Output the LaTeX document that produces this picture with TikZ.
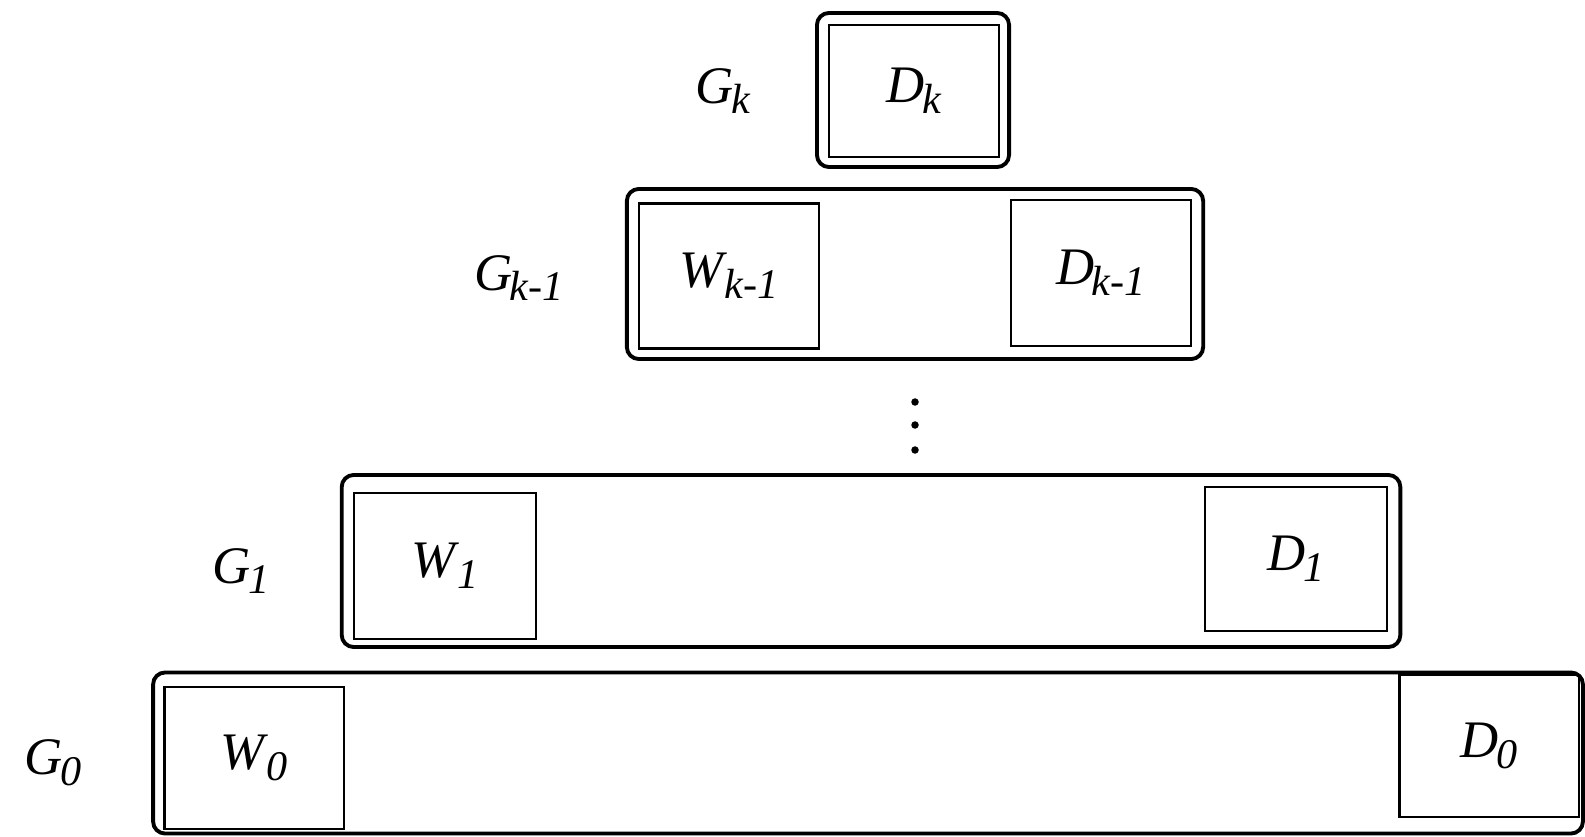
\documentclass[tikz,border=0pt]{standalone}
\usepackage{fontspec}
\setmainfont{Liberation Serif}
\usepackage{tikz}
\usetikzlibrary{positioning}

% label with an italic letter and a lowered subscript
\newcommand{\sub}[2]{\textit{#1}\kern-0.05em\raisebox{-0.45ex}{\fontsize{12}{14}\selectfont\itshape #2}}

\begin{document}
\begin{tikzpicture}[x=0.01cm, y=-0.01cm,
  group/.style={rectangle, draw, line width=1.1pt, rounded corners=0.12cm},
  block/.style={rectangle, draw, line width=0.6pt, font=\fontsize{15}{18}\selectfont},
  lbl/.style={font=\fontsize{15}{18}\selectfont},
  dotmark/.style={circle, fill, inner sep=0pt, minimum size=0.075cm}]
  \useasboundingbox (0,0) rectangle (1585,837);

  % top level: G_k
  \node[group, minimum width=1.92cm, minimum height=1.54cm] (gk) at (913,90) {};
  \node[block, minimum width=1.70cm, minimum height=1.32cm] (dk) at (914,91) {\sub{D}{k}};
  \node[lbl] (lk) at (723,91) {\sub{G}{k}};

  % level k-1
  \node[group, minimum width=5.76cm, minimum height=1.70cm] (gkm) at (915,274) {};
  \node[block, minimum width=1.80cm, minimum height=1.45cm] (wkm) at (729,276) {\sub{W}{k-1}};
  \node[block, minimum width=1.80cm, minimum height=1.46cm] (dkm) at (1101,273) {\sub{D}{k-1}};
  \node[lbl] (lkm) at (519,278) {\sub{G}{k-1}};

  % dots in between
  \foreach \i/\y in {1/402, 2/425, 3/450}
    \node[dotmark] (dot\i) at (915,\y) {};

  % level 1
  \node[group, minimum width=10.58cm, minimum height=1.72cm] (g1) at (871,561) {};
  \node[block, minimum width=1.82cm, minimum height=1.46cm] (w1) at (445,566) {\sub{W}{1}};
  \node[block, minimum width=1.82cm, minimum height=1.44cm] (d1) at (1296,559) {\sub{D}{1}};
  \node[lbl] (l1) at (241,571) {\sub{G}{1}};

  % level 0
  \node[group, minimum width=14.29cm, minimum height=1.61cm] (g0) at (868,753) {};
  \node[block, minimum width=1.79cm, minimum height=1.42cm] (w0) at (254,758) {\sub{W}{0}};
  \node[block, minimum width=1.79cm, minimum height=1.42cm] (d0) at (1489,746) {\sub{D}{0}};
  \node[lbl] (l0) at (53,763) {\sub{G}{0}};
\end{tikzpicture}
\end{document}
